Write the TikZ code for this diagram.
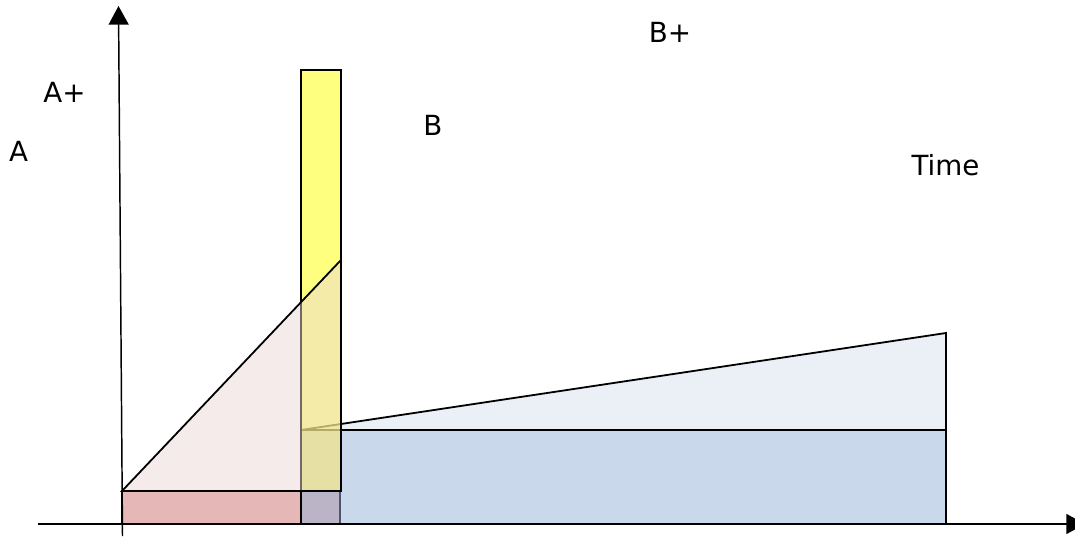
\documentclass[tikz,border=0pt]{standalone}
\usepackage{fontspec}
\setmainfont{DejaVu Sans}
\usetikzlibrary{arrows.meta}
\definecolor{redfill}{RGB}{229,184,183}
\definecolor{bluefill}{RGB}{147,177,215}
\definecolor{lightblue}{RGB}{235,240,247}
\definecolor{pinkfill}{RGB}{235,214,214}
\definecolor{yellowfill}{RGB}{255,255,0}
\tikzset{
  areabox/.style={draw=black, line width=1.35pt, line join=miter},
  axisline/.style={draw=black, line width=1.1pt, -{Triangle[length=14pt,width=15pt]}},
  lbl/.style={anchor=base, inner sep=0pt, font=\fontsize{20.8pt}{24pt}\selectfont}
}
\begin{document}
\begin{tikzpicture}[x=0.75pt,y=-0.75pt]
\useasboundingbox (0,0) rectangle (1075,536);
% red rectangle (under blue)
\path[areabox, fill=redfill] (122,491) rectangle (340,524);
% blue rectangle
\path[areabox, fill=bluefill, fill opacity=0.5] (301,430) rectangle (946,524);
% light blue trapezoid
\path[areabox, fill=lightblue] (301,430) -- (946,333) -- (946,430) -- cycle;
% yellow rectangle
\path[areabox, fill=yellowfill, fill opacity=0.5] (301,70) rectangle (341,491);
% pink triangle
\path[areabox, fill=pinkfill, fill opacity=0.49] (122,491) -- (341,260) -- (341,491) -- cycle;
% axes
\coordinate (xs) at (38,524);
\coordinate (xe) at (1085,524);
\coordinate (ys) at (122.5,536);
\coordinate (ye) at (118.5,6);
\draw[axisline] (xs) -- (xe);
\draw[axisline] (ys) -- (ye);
% labels
\node[lbl] (aplus) at (64.5,102.5) {A+};
\node[lbl] (a) at (18.5,161.5) {A};
\node[lbl] (b) at (433,135) {B};
\node[lbl] (bplus) at (670,42) {B+};
\node[lbl] (time) at (945.5,175) {Time};
\end{tikzpicture}
\end{document}
